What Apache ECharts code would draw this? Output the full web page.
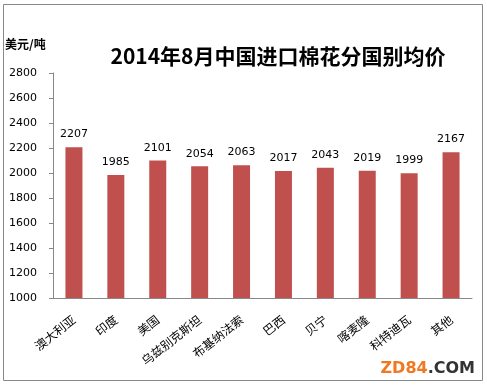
<!DOCTYPE html>
<html><head><meta charset="utf-8">
<script src="https://cdn.jsdelivr.net/npm/echarts@6/dist/echarts.min.js"></script>
<style>html,body{margin:0;padding:0;background:#fff}#c{width:487px;height:387px}</style>
</head><body><div id="c"></div>
<script>
const categories = ['澳大利亚','印度','美国','乌兹别克斯坦','布基纳法索','巴西','贝宁','喀麦隆','科特迪瓦','其他'];
const prices = [2207,1985,2101,2054,2063,2017,2043,2019,1999,2167];
const yTicks = {min:1000, max:2800, interval:200};

const chart = echarts.init(document.getElementById('c'));
chart.setOption({
  animation:false,
  backgroundColor:'#fff',
  title:{text:'2014年8月中国进口棉花分国别均价', left:273, top:41, textAlign:'center',
    textStyle:{fontFamily:'Noto Sans CJK SC', fontSize:21, fontWeight:'bold', color:'#000'}},
  graphic:[
    {type:'rect', shape:{x:3.5,y:4.5,width:479,height:376}, style:{fill:'none', stroke:'#888', lineWidth:1}},
    {type:'text', left:5, top:38, style:{text:'美元/吨', font:'bold 12px "Noto Sans CJK SC"', fill:'#000'}},
    {type:'text', right:12, top:361, style:{rich:{a:{fill:'#F07820',font:'bold 16px "DejaVu Sans"'},b:{fill:'#333',font:'bold 16px "DejaVu Sans"'}}, text:'{a|ZD84}{b|.COM}'}}
  ],
  grid:{left:53, right:15, top:73, bottom:89},
  xAxis:{type:'category', data:categories,
    axisLine:{lineStyle:{color:'#888'}},
    axisTick:{inside:true, length:4, lineStyle:{color:'#888'}},
    axisLabel:{rotate:38, interval:0, color:'#000', fontSize:12, fontFamily:'Noto Sans CJK SC', margin:20}},
  yAxis:{type:'value', min:yTicks.min, max:yTicks.max, interval:yTicks.interval,
    axisLine:{show:true, lineStyle:{color:'#888'}},
    axisTick:{show:true, inside:false, length:4, lineStyle:{color:'#888'}},
    splitLine:{show:false},
    axisLabel:{color:'#000', fontSize:11, fontFamily:'DejaVu Sans', margin:16, formatter:v=>String(v)}},
  series:[{type:'bar', data:prices, barWidth:17,
    itemStyle:{color:'#C0504D'},
    label:{show:true, position:'top', color:'#000', fontSize:11, fontFamily:'DejaVu Sans', distance:7}}]
});
</script></body></html>
